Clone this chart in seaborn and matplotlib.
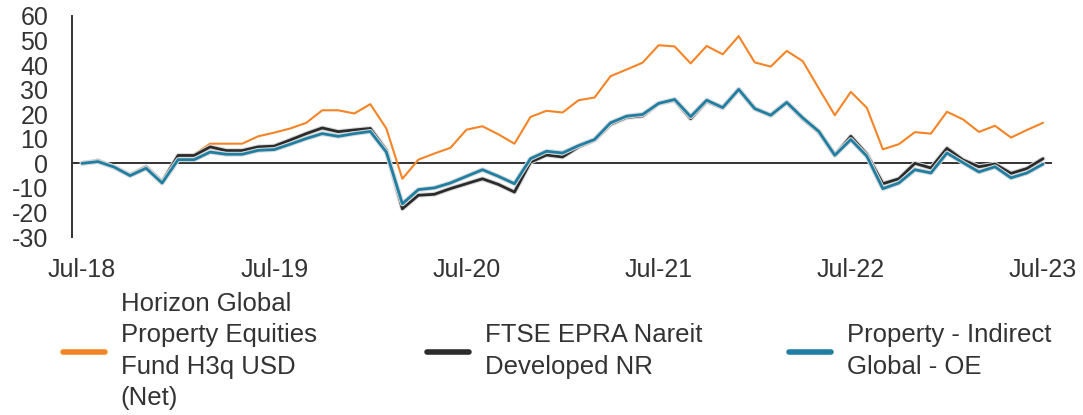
import matplotlib
matplotlib.use("Agg")
from matplotlib import pyplot as plt
import matplotlib.patheffects as pe
import seaborn as sns
import numpy as np

sns.set_style("white")
plt.rcParams['font.family'] = ['Liberation Sans', 'DejaVu Sans']
plt.rcParams['axes.unicode_minus'] = False

# monthly cumulative growth (%), Jul-18 .. Jul-23
fund = [0, 1.5, -1.5, -4.8, -1.5, -7.6, 3.4, 3.7, 8.0, 8.0, 8.0, 11.0,
        12.5, 14.2, 16.5, 21.6, 21.6, 20.3, 24.1, 14.2, -6.3, 1.5, 4.0, 6.3,
        13.7, 15.1, 11.8, 8.0, 18.9, 21.4, 20.7, 25.7, 26.8, 35.5, 38.2, 41.0,
        48.1, 47.6, 40.7, 47.8, 44.4, 51.8, 41.1, 39.4, 45.8, 41.6, 30.5, 19.6,
        29.1, 22.6, 5.7, 7.8, 12.7, 12.1, 21.0, 17.9, 12.8, 15.3, 10.5, 13.6,
        16.5]
index = [0, 1.0, -1.5, -4.8, -1.5, -7.6, 3.2, 3.2, 6.7, 5.2, 5.2, 6.7,
         7.0, 9.5, 12.1, 14.4, 12.9, 13.6, 14.2, 5.3, -18.5, -13.0, -12.6, -10.3,
         -8.3, -6.3, -8.6, -11.7, 0.5, 3.4, 2.6, 6.7, 9.5, 15.9, 18.7, 19.3,
         24.4, 25.7, 18.2, 25.3, 22.6, 30.1, 22.3, 19.6, 24.8, 18.2, 12.8, 3.3,
         11.0, 3.7, -8.3, -6.3, 0.0, -1.9, 6.1, 1.4, -1.4, -0.3, -4.1, -2.1,
         1.9]
peers = [0, 0.7, -1.5, -5.0, -2.0, -8.0, 1.5, 1.5, 4.6, 3.7, 3.7, 5.3,
         5.6, 7.8, 10.1, 12.1, 11.0, 12.1, 13.0, 4.6, -16.5, -10.7, -10.0, -8.0,
         -5.3, -2.6, -5.3, -8.3, 1.9, 4.9, 4.2, 7.2, 9.7, 16.5, 19.2, 19.9,
         24.4, 26.0, 19.0, 25.7, 22.7, 30.1, 22.3, 19.6, 24.8, 18.5, 13.0, 3.3,
         9.7, 2.9, -10.3, -8.0, -2.6, -3.9, 4.2, 0.3, -3.5, -1.4, -5.9, -3.9,
         -0.3]

names = ["Horizon Global\nProperty Equities\nFund H3q USD\n(Net)",
         "FTSE EPRA Nareit\nDeveloped NR",
         "Property - Indirect\nGlobal - OE"]
colors = ["#F58426", "#2B2B2B", "#1F7FA3"]
xlabels = ["Jul-18", "Jul-19", "Jul-20", "Jul-21", "Jul-22", "Jul-23"]
yticks = [-30, -20, -10, 0, 10, 20, 30, 40, 50, 60]

months = np.arange(len(fund))
text_col = "#333333"

fig = plt.figure(figsize=(10.83, 4.15), dpi=100)
ax = fig.add_axes([72/1083, 1 - 237/415, (1052 - 72)/1083, (237 - 16)/415])

ax.axhline(0, color=text_col, lw=1.4, zorder=1)

widths = [1.5, 2.0, 2.0]
halo = [None, 3.5, 3.5]
for vals, name, c, w, h in zip([fund, index, peers], names, colors, widths, halo):
    sns.lineplot(x=months, y=vals, color=c, lw=w, ax=ax, legend=False)
    line = ax.lines[-1]
    if h:
        line.set_path_effects([pe.Stroke(linewidth=h, foreground="#d8d8d8"), pe.Normal()])

ax.set_xlim(-0.625, 60.56)
ax.set_ylim(-30, 60)
ax.set_yticks(yticks)
ax.set_yticklabels([str(v) for v in yticks])
ax.set_xticks(months[::12])
ax.set_xticklabels(xlabels)
ax.tick_params(axis="both", length=0, labelsize=18, colors=text_col)
ax.tick_params(axis="y", pad=17)
ax.tick_params(axis="x", pad=15)
for s in ["top", "right", "bottom"]:
    ax.spines[s].set_visible(False)
ax.spines["left"].set_color(text_col)
ax.spines["left"].set_linewidth(1.4)
ax.set_xlabel("")
ax.set_ylabel("")

# legend: three separate entries placed under the plot
legend_x = [63, 427, 789]
for name, c, lx in zip(names, colors, legend_x):
    h = plt.Line2D([], [], color=c, lw=4)
    leg = fig.legend([h], [name], loc="center left",
                     bbox_to_anchor=(lx/1083, 1 - 351/415), frameon=False,
                     fontsize=18.5, handlelength=1.65, handletextpad=0.6,
                     borderpad=0, borderaxespad=0)
    for t in leg.get_texts():
        t.set_color(text_col)
        t.set_linespacing(1.38)

fig.savefig("out.png", dpi=100)
